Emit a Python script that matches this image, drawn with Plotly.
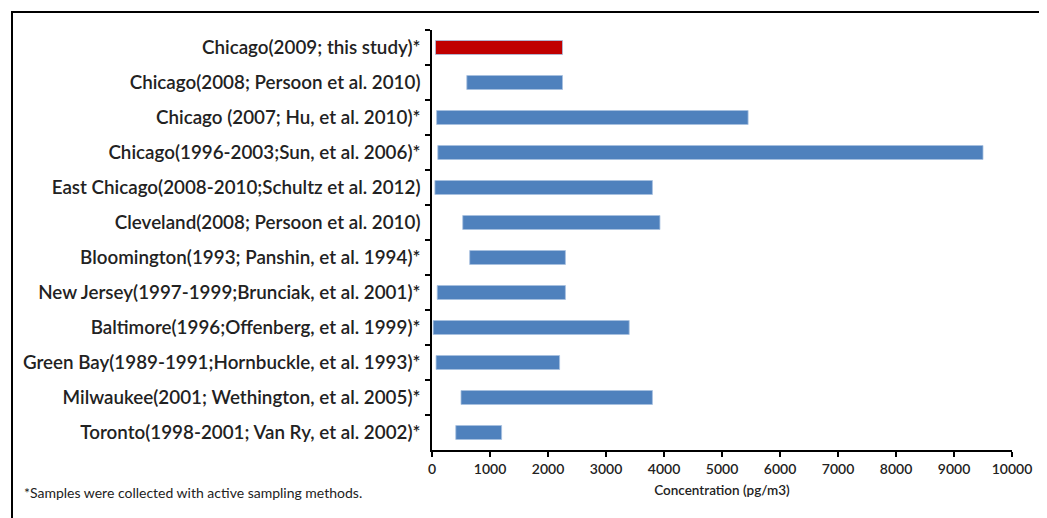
import plotly.graph_objects as go

studies = [
    "Chicago(2009; this study)*",
    "Chicago(2008; Persoon et al. 2010)",
    "Chicago (2007; Hu, et al. 2010)*",
    "Chicago(1996-2003;Sun, et al. 2006)*",
    "East Chicago(2008-2010;Schultz et al. 2012)",
    "Cleveland(2008; Persoon et al. 2010)",
    "Bloomington(1993; Panshin, et al. 1994)*",
    "New Jersey(1997-1999;Brunciak, et al. 2001)*",
    "Baltimore(1996;Offenberg, et al. 1999)*",
    "Green Bay(1989-1991;Hornbuckle, et al. 1993)*",
    "Milwaukee(2001; Wethington, et al. 2005)*",
    "Toronto(1998-2001; Van Ry, et al. 2002)*",
]
low = [60, 600, 80, 100, 50, 530, 650, 90, 20, 70, 500, 410]
high = [2250, 2250, 5450, 9500, 3800, 3930, 2300, 2300, 3400, 2200, 3800, 1200]
colors = ["#C00000"] + ["#4F81BD"] * 11
x_ticks = list(range(0, 10001, 1000))
x_ticktext = [str(v) for v in x_ticks]

# page body has an 8px margin; figure placed at (8, 8)
OFF = 8
W, H = 1047 - OFF, 518 - OFF
L, T = 432 - OFF, 30 - OFF
pw, ph = 580, 420
R, B = W - L - pw, H - T - ph

def px_x(px):
    return (px - OFF - L) / pw

def px_y(py):
    return 1 - (py - OFF - T) / ph

fig = go.Figure(go.Bar(
    y=studies,
    x=[h - l for l, h in zip(low, high)],
    base=low,
    orientation="h",
    width=0.4,
    marker=dict(color=colors, line=dict(color="#A7C0E0", width=0.8)),
))

fig.update_layout(
    width=W, height=H,
    margin=dict(l=L, r=R, t=T, b=B, autoexpand=False),
    paper_bgcolor="white", plot_bgcolor="white",
    font=dict(family="Lato", size=16, color="black"),
    showlegend=False,
    xaxis=dict(
        range=[0, 10000], tickvals=x_ticks, ticktext=x_ticktext,
        showgrid=False, zeroline=False,
        showline=True, linecolor="black", linewidth=1.5,
        ticks="outside", ticklen=5, tickcolor="black", tickwidth=1.5,
        tickfont=dict(size=14, weight=600, color="#222222"),
        title=dict(text="Concentration (pg/m3)",
                   font=dict(size=13.5, family="Lato", weight=600, color="#222222"),
                   standoff=10),
    ),
    yaxis=dict(
        type="category", autorange="reversed", tickson="boundaries",
        showgrid=False, showline=True, linecolor="black", linewidth=1.5,
        ticks="outside", ticklen=5, tickcolor="black", tickwidth=1.5,
        tickfont=dict(size=18.8, weight=600, color="#222222"), ticklabelstandoff=6,
    ),
    shapes=[dict(
        type="rect", xref="paper", yref="paper",
        x0=px_x(12), x1=px_x(1052),
        y0=px_y(523), y1=px_y(12),
        line=dict(color="black", width=2), fillcolor="rgba(0,0,0,0)", layer="below",
    )],
    annotations=[dict(
        text="*Samples were collected with active sampling methods.",
        xref="paper", yref="paper", x=px_x(22), y=px_y(492),
        xanchor="left", yanchor="middle", showarrow=False,
        font=dict(size=14, family="Lato", color="#222222"),
    )],
)

fig.write_html("out.html")
